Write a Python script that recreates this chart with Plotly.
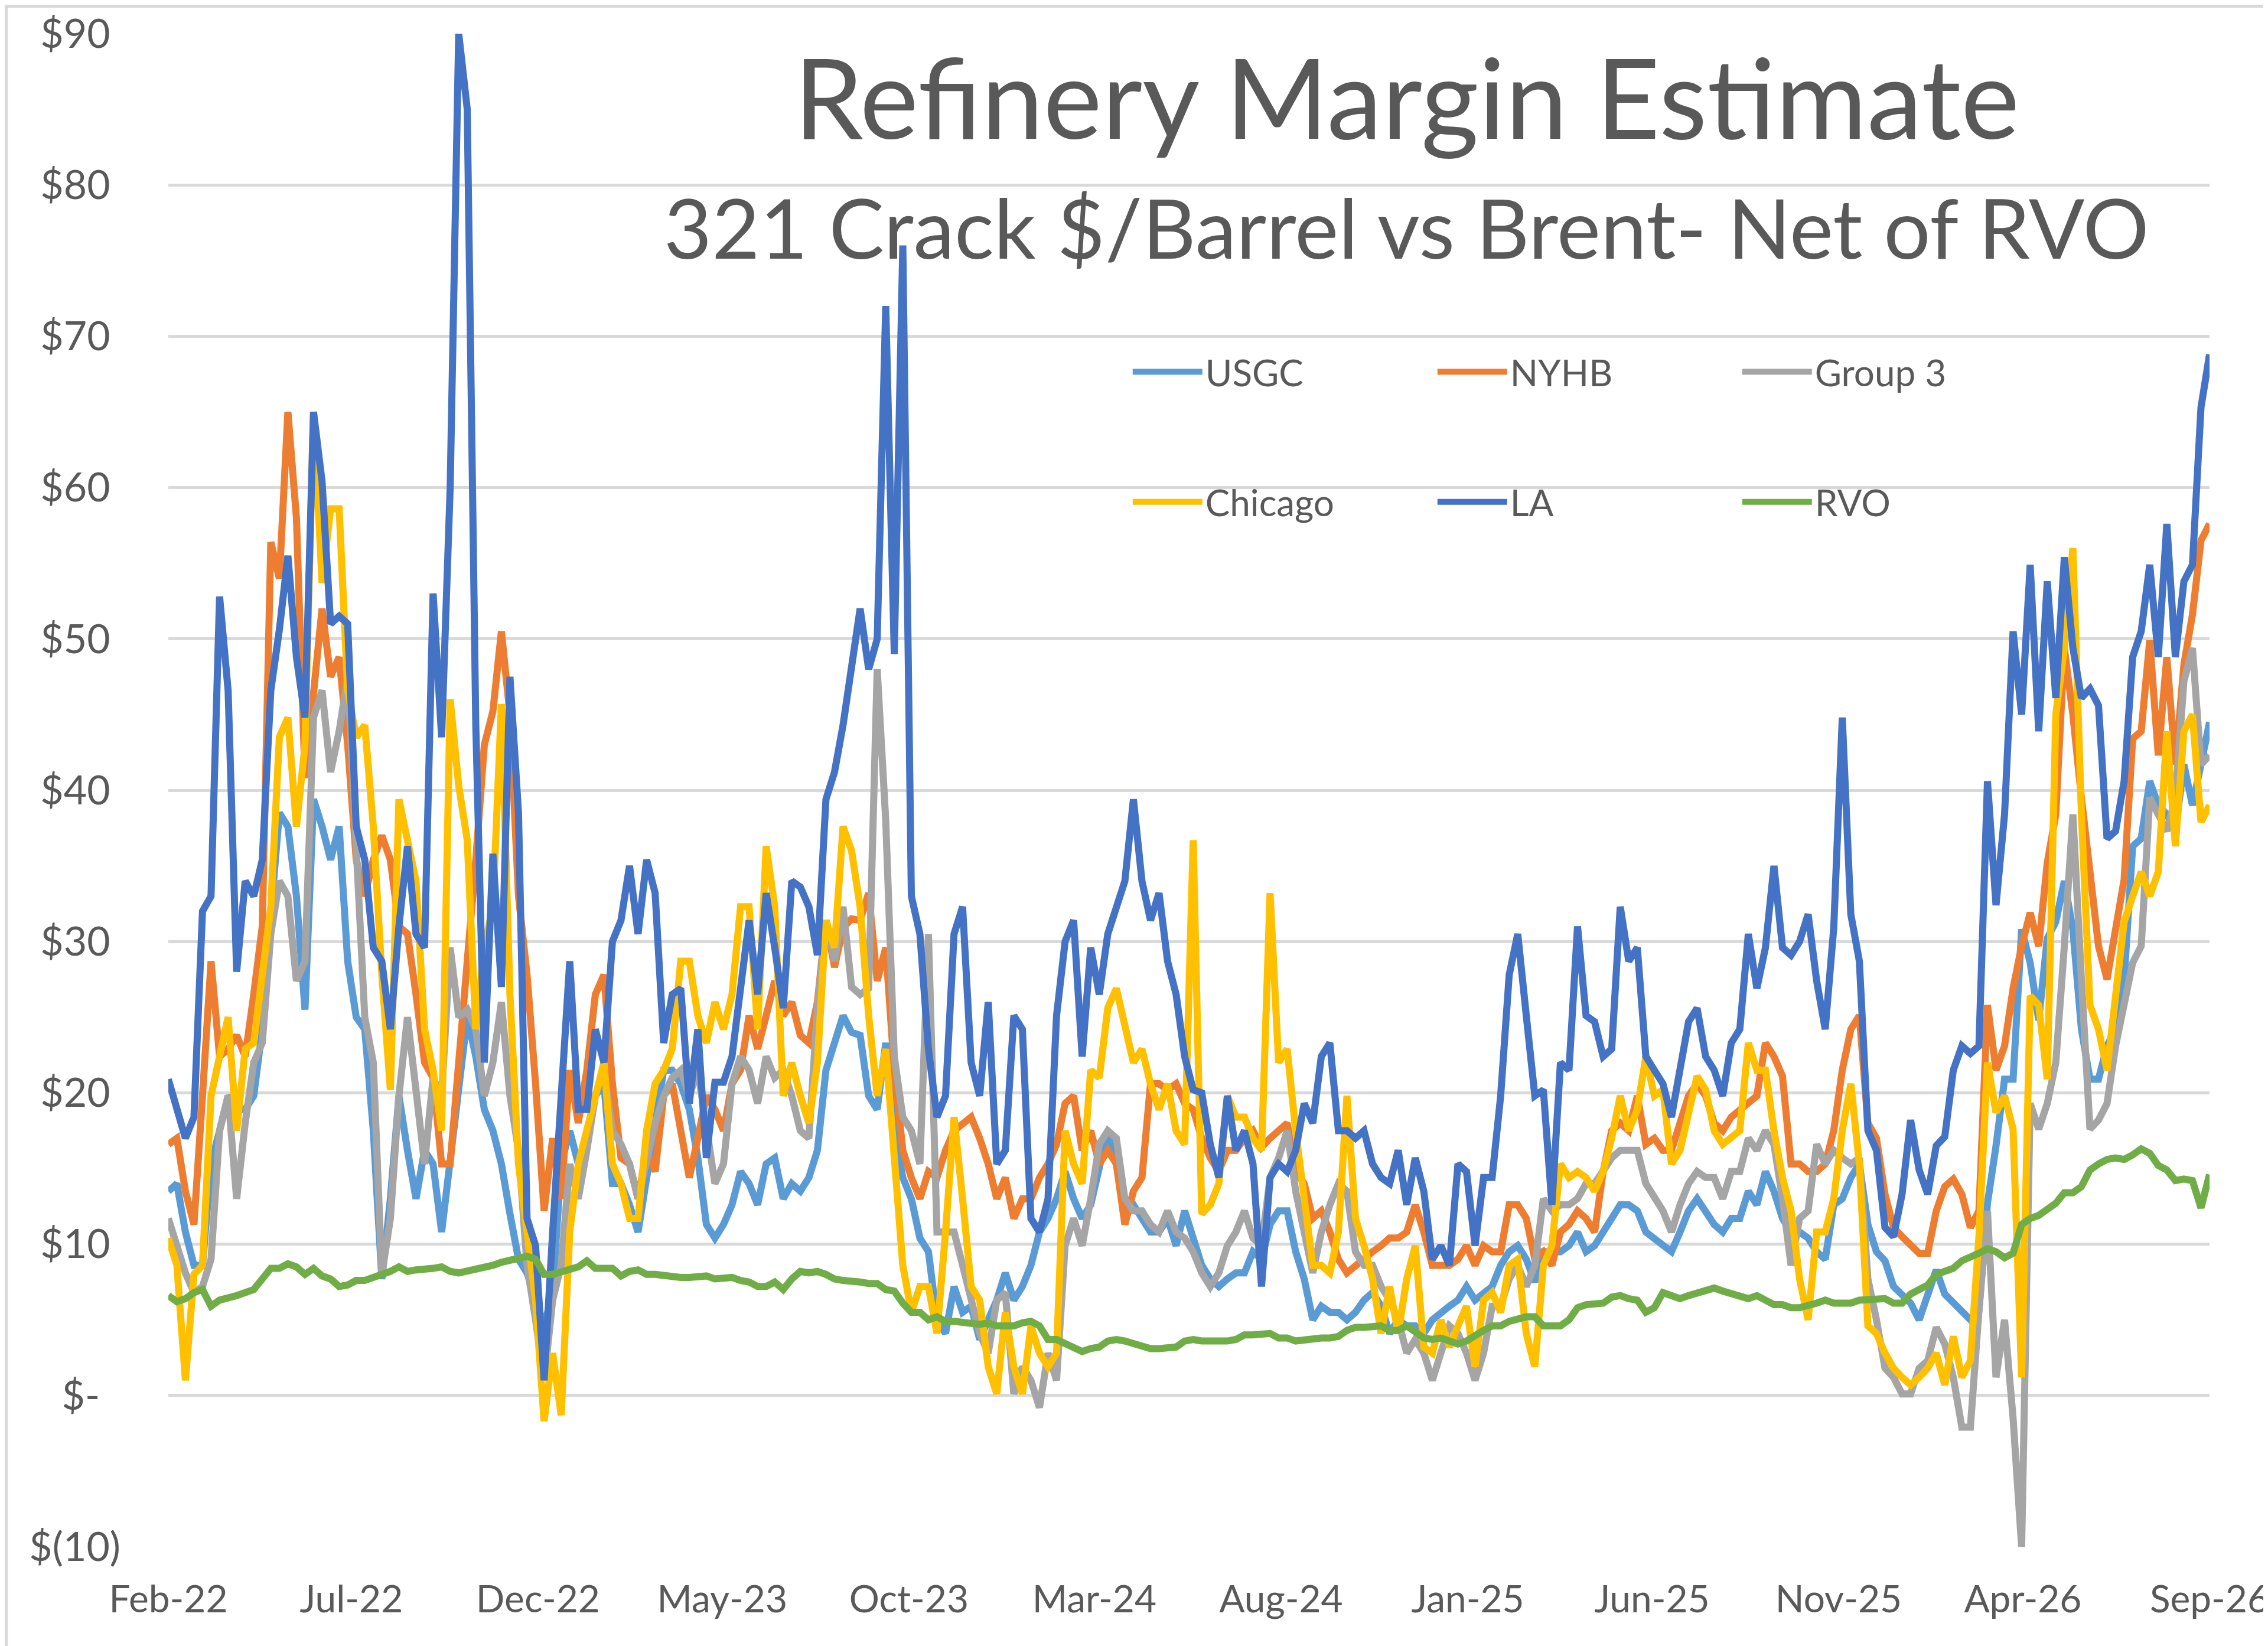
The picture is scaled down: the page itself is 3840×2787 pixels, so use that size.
# Refinery margin estimate chart (321 crack vs Brent, net of RVO)
import pandas as pd
import plotly.graph_objects as go

# Weekly observations, first point on 2022-02-01
START_DATE = "2022-02-01"

usgc = [
    13.5, 14, 10.8, 8.6, 8.6, 15.3, 17.5, 19.8, 18.9, 18.9,
    19.8, 24.2, 31.8, 38.5, 37.6, 33, 25.5, 39.4, 37.6, 35.4,
    37.6, 28.7, 25, 24.2, 17.5, 7.7, 13, 19.8, 16.2, 13,
    16.2, 15.3, 10.8, 15.3, 19.8, 25, 22.4, 18.9, 17.5, 15.3,
    12, 9, 8.1, 6.3, 4.6, 6.8, 15.3, 17.5, 15.3, 17,
    19.8, 20.6, 14, 14, 12.6, 10.8, 14.4, 17.5, 21.5, 21.5,
    20.6, 18.9, 15.7, 11.3, 10.4, 11.3, 12.6, 14.8, 14, 12.6,
    15.3, 15.7, 13, 14, 13.5, 14.4, 16.2, 21.5, 23.3, 25.1,
    24, 23.8, 19.8, 18.9, 23.3, 17.5, 14.4, 13, 10.4, 9.5,
    5, 4.1, 7.2, 5.5, 5.9, 3.7, 5, 6.3, 8.1, 6.3,
    7.2, 8.6, 10.8, 11.7, 13, 14.8, 13, 11.7, 12.6, 15.3,
    17.5, 15.7, 12.6, 12.6, 11.7, 10.8, 10.8, 11.7, 9.9, 12.2,
    10.4, 8.6, 7.7, 7.2, 7.7, 8.1, 8.1, 9.5, 9, 11.3,
    12.2, 12.2, 9.5, 7.7, 5, 5.9, 5.5, 5.5, 5, 5.5,
    6.3, 6.8, 5.9, 4.1, 5, 4.6, 4.6, 4.1, 5, 5.5,
    5.9, 6.3, 7.2, 6.3, 6.8, 7.2, 8.6, 9.5, 9.9, 9,
    7.5, 9.5, 9.5, 9.5, 9.9, 10.8, 9.5, 9.9, 10.8, 11.7,
    12.6, 12.6, 12.2, 10.8, 10.4, 9.9, 9.5, 10.8, 12.2, 13,
    12.2, 11.3, 10.8, 11.7, 11.7, 13.5, 12.6, 14.8, 13.5, 11.7,
    10.8, 10.8, 10.4, 9.5, 9, 12.6, 13, 14.4, 15.3, 11.3,
    9.5, 8.9, 7.2, 6.7, 6.1, 5, 6.7, 8.3, 6.7, 6.1,
    5.6, 5, 5.6, 12.7, 16.5, 20.9, 20.9, 30.8, 28.6, 24.8,
    30.2, 31.3, 34, 30.8, 24.2, 20.9, 20.9, 23.1, 24.2, 27.5,
    36.3, 36.8, 40.6, 39, 38.4, 37.3, 41.7, 39, 41.7, 44.5,
]

nyhb = [
    16.6, 17, 13.5, 11.3, 19.8, 28.7, 22.4, 22.9, 23.8, 22.4,
    26.5, 31, 56.4, 54, 65, 58, 40.8, 46.6, 52, 47.5,
    48.8, 43, 35.4, 33, 35.4, 37, 35.4, 31, 30.5, 26.5,
    22, 21, 15.3, 15.3, 22, 27.8, 35.4, 43, 45.2, 50.5,
    45, 33, 27.8, 20.6, 12.2, 17, 13, 21.5, 18, 21.5,
    26.5, 27.8, 20.6, 15.7, 15.3, 13, 16.2, 14.8, 19.8, 20.6,
    17.5, 14.4, 17, 19.8, 18.9, 17.5, 20.6, 21.5, 25.1, 22.9,
    25.1, 27.4, 25.1, 26, 23.8, 23.3, 26, 31.4, 28.3, 30.9,
    31.5, 31.4, 33.2, 27.4, 29.6, 21.5, 16.2, 14.4, 13, 14.8,
    14.4, 16.2, 17.5, 18, 18.4, 17, 15.3, 13, 14.4, 11.7,
    13, 13, 14.4, 15.3, 16.6, 19.3, 19.8, 16.2, 17.5, 15.3,
    16.2, 15.3, 11.3, 13.5, 14.4, 20.6, 20.6, 20.2, 20.6, 19.3,
    18.9, 17, 15.7, 14.8, 16.2, 16.2, 17, 17.5, 16.4, 17,
    17.5, 18, 14.8, 14, 11.7, 12.2, 10.8, 9, 8.1, 8.6,
    9, 9.5, 9.9, 10.4, 10.4, 10.8, 12.6, 10.8, 8.6, 8.6,
    8.6, 9, 9.9, 8.6, 9.9, 9.5, 9.5, 12.6, 12.6, 11.7,
    9, 9.5, 8.6, 10.8, 11.3, 12.2, 11.7, 10.8, 14.8, 17.5,
    18, 17.5, 19.8, 16.6, 17, 16.2, 16.2, 18, 19.8, 20.6,
    19.8, 18, 17.5, 18.4, 18.9, 19.3, 19.8, 23.3, 22.4, 21.1,
    15.3, 15.3, 14.8, 14.8, 15.3, 17.5, 21.5, 24.2, 25.1, 18,
    17, 13.3, 11.1, 10.5, 10, 9.4, 9.4, 12.2, 13.8, 14.3,
    13.3, 11.1, 12.2, 25.8, 21.5, 23.1, 26.9, 29.7, 31.9, 29.7,
    35.2, 38.4, 49.4, 45, 39.5, 34.1, 29.7, 27.5, 30.8, 34.1,
    43.4, 43.9, 49.9, 42.3, 48.8, 41.7, 48.3, 51.6, 56.5, 57.6,
]

group3 = [
    11.7, 10, 8.1, 6.8, 7.2, 9, 17.5, 19.8, 13, 18,
    22, 23.3, 30.5, 34, 33, 27.4, 28.7, 44.8, 46.6, 41.2,
    43.9, 47.5, 35.4, 25, 22, 8, 11.7, 19.8, 25, 19.8,
    15.3, 21, 19.8, 29.6, 25, 25.5, 24.2, 19.8, 22, 26,
    19.8, 16.2, 8.6, 5, 1, 6.3, 8.6, 15.3, 13, 16.2,
    19.8, 21.5, 17.5, 16.6, 15.3, 13, 15.3, 18, 19.8, 21,
    21.5, 19.8, 21.5, 17.5, 14, 15.3, 20.6, 22.4, 21.5, 19.3,
    22.4, 21, 21.5, 19.8, 17.5, 17, 25.6, 31.4, 28.7, 32.3,
    27, 26.5, 26.9, 48, 38, 22.4, 18.4, 17.5, 15.3, 30.5,
    10.8, 10.8, 10.8, 8.6, 6.3, 4.1, 2.8, 6.3, 6.8, 0.1,
    1.9, 1, -0.8, 2.8, 1, 9.9, 11.7, 9.9, 13, 16.6,
    17.5, 17, 13, 12.2, 12.2, 11.3, 10.8, 12.2, 10.8, 10.4,
    9.5, 8.1, 7.2, 8.1, 9.9, 10.8, 12.2, 10.4, 9.9, 14.4,
    15.7, 17.5, 13.5, 10.8, 8.1, 10.8, 12.6, 14, 13.5, 9.5,
    8.6, 8.6, 7.2, 6.3, 5, 2.8, 3.7, 2.8, 1, 2.8,
    4.6, 4.1, 2.8, 1, 2.8, 5.9, 5.9, 7.7, 8.6, 7.2,
    8.6, 13, 12.2, 12.6, 12.6, 13, 14, 14, 14.8, 15.7,
    16.2, 16.2, 16.2, 14, 13, 12.2, 10.8, 12.6, 14, 14.8,
    14.4, 14.4, 13, 14.8, 14.8, 17, 16.2, 17.5, 16.6, 13,
    8.6, 11.7, 12.2, 16.6, 15.3, 16.2, 15.7, 15.3, 15.7, 7.7,
    5, 1.8, 1.2, 0.1, 0.1, 1.8, 2.3, 4.5, 3.4, 1.2,
    -2.1, -2.1, 5.6, 12.2, 1.2, 5, -1.5, -10, 19.3, 17.6,
    19.3, 22, 29.7, 38.4, 27.5, 17.6, 18.2, 19.3, 23.1, 25.8,
    28.6, 29.7, 39.5, 38.4, 37.3, 39.5, 47.2, 49.4, 41.7, 42.3,
]

chicago = [
    10.4, 8.6, 1, 8, 8.6, 19.8, 22.4, 25, 17.5, 22.9,
    23.3, 27.4, 32.3, 43.5, 44.8, 37.6, 43, 65, 53.7, 58.6,
    58.6, 46.6, 43.5, 44.3, 37.6, 27.8, 20.2, 39.4, 36.7, 34,
    24.2, 21.5, 17.5, 46, 40.3, 36.7, 24.2, 29.6, 32.3, 45.7,
    26.5, 15.3, 10.8, 6.3, -1.7, 2.8, -1.3, 10.8, 15.3, 17.5,
    19.8, 22, 15.3, 14, 11.7, 11.7, 17.5, 20.6, 21.5, 22.9,
    28.7, 28.7, 25.1, 23.3, 26, 24.2, 26.5, 32.3, 32.3, 24.2,
    36.3, 32.3, 19.8, 22, 19.8, 18, 22, 31.4, 29.6, 37.6,
    36, 32.3, 25.1, 19.8, 22.9, 15.3, 8.6, 5.5, 7.2, 7.2,
    4.1, 10.8, 18.4, 13, 7.2, 6.3, 1.9, 0.1, 5.5, 1.9,
    0.1, 4.6, 2.8, 1.9, 2.8, 17.5, 15.3, 14, 21.5, 21,
    25.6, 26.9, 24.2, 22, 22.9, 20.6, 18.9, 20.6, 17.5, 16.6,
    36.7, 12, 12.6, 14, 19.8, 18.4, 18.4, 17, 16.2, 33.2,
    22, 22.9, 17.5, 13, 8.6, 8.6, 8.1, 10.8, 19.8, 11.7,
    9.9, 7.7, 4.1, 7.2, 4.1, 7.7, 9.9, 3.2, 2.8, 5,
    3.2, 4.6, 5.9, 1.9, 6.3, 6.8, 5.5, 8.6, 9, 4.1,
    1.9, 8.6, 9.9, 15.3, 14.4, 14.8, 14.4, 13.5, 14.8, 17,
    19.8, 17.5, 18.9, 22.4, 19.8, 20.2, 15.3, 16.2, 18.9, 21.1,
    20.2, 17.5, 16.6, 17, 17.5, 23.3, 21.5, 21.5, 17.5, 14.4,
    12.2, 7.7, 5, 10.8, 10.8, 13, 17.5, 20.6, 15.3, 4.6,
    4.1, 2.8, 1.8, 1.2, 0.7, 1.2, 1.8, 2.8, 0.7, 3.9,
    1.2, 2.3, 10.5, 22, 18.7, 19.8, 17.6, 1.2, 26.4, 25.8,
    20.9, 45, 49.4, 56, 38.4, 25.8, 24.2, 21.5, 26.9, 31.3,
    33, 34.6, 33, 34.6, 43.9, 36.3, 43.9, 45, 37.9, 39,
]

la = [
    20.9, 18.9, 17, 18.4, 32, 33, 52.8, 46.6, 28, 34,
    33, 35.4, 46.6, 50.6, 55.5, 48.8, 44.8, 65, 60.4, 51,
    51.5, 51, 37.6, 35.4, 29.6, 28.7, 24.2, 31, 36.3, 30.5,
    29.6, 53, 43.5, 60, 90, 85, 44.3, 22, 35.8, 27,
    47.5, 38.5, 11.7, 9.9, 1, 10.8, 19.8, 28.7, 18.9, 18.9,
    24.2, 22, 30, 31.4, 35, 30.5, 35.4, 33.2, 23.3, 26.5,
    26.9, 19.3, 24.2, 15.7, 20.7, 20.7, 22.4, 27.4, 31.4, 26.5,
    33.2, 29.6, 25.6, 34, 33.6, 32.3, 29.1, 39.4, 41.2, 44.3,
    48, 52, 48, 50, 72, 49, 76, 33, 30.5, 22.9,
    18.4, 19.8, 30.5, 32.3, 22, 19.8, 26, 15.3, 16.2, 25.1,
    24.2, 11.7, 10.8, 13, 25.1, 30, 31.4, 22.4, 29.6, 26.5,
    30.5, 32.3, 34, 39.4, 34, 31.4, 33.2, 28.7, 26.5, 22.4,
    20.2, 20, 16.6, 14.4, 19.8, 16.2, 17.5, 15.3, 7.2, 14.4,
    15.3, 14.8, 16.2, 19.3, 18, 22.4, 23.3, 17.5, 17.5, 17,
    17.5, 15.3, 14.4, 14, 16.2, 12.6, 15.7, 13.5, 9, 9.9,
    8.6, 15.3, 14.8, 9.9, 14.4, 14.4, 19.8, 27.8, 30.5, 25.1,
    19.8, 20.2, 12.6, 22, 21.5, 31, 25.1, 24.7, 22.4, 22.9,
    32.3, 28.7, 29.6, 22.4, 21.5, 20.6, 18.4, 21.5, 24.7, 25.6,
    22.4, 21.5, 19.8, 23.3, 24.2, 30.5, 26.9, 29.6, 35, 29.6,
    29.1, 30, 31.8, 27.4, 24.2, 30.9, 44.8, 31.8, 28.7, 17.5,
    16.2, 11.1, 10.5, 13.3, 18.2, 14.9, 13.3, 16.5, 17.1, 21.5,
    23.1, 22.6, 23.1, 40.6, 32.4, 38.4, 50.5, 45, 54.9, 43.9,
    53.8, 46.1, 55.4, 49.4, 46.1, 46.7, 45.6, 36.8, 37.3, 40.6,
    48.8, 50.5, 54.9, 48.8, 57.6, 48.8, 53.8, 54.9, 65.3, 68.8,
]

rvo = [
    6.6, 6.2, 6.4, 6.8, 7, 5.9, 6.3, 6.4, 6.6, 6.8,
    7, 7.7, 8.4, 8.4, 8.7, 8.5, 8, 8.4, 7.9, 7.7,
    7.2, 7.3, 7.6, 7.6, 7.8, 7.9, 8.2, 8.5, 8.2, 8.3,
    8.3, 8.4, 8.5, 8.2, 8.1, 8.2, 8.4, 8.5, 8.6, 8.8,
    8.9, 9, 9.2, 9, 8, 8, 8.2, 8.4, 8.5, 8.9,
    8.4, 8.4, 8.4, 7.9, 8.2, 8.3, 8, 8, 7.9, 7.8,
    7.8, 7.8, 7.9, 7.9, 7.7, 7.8, 7.8, 7.6, 7.5, 7.2,
    7.2, 7.5, 7, 7.7, 8.2, 8.1, 8.2, 8, 7.7, 7.6,
    7.6, 7.5, 7.4, 7.4, 7, 6.9, 6.1, 5.5, 5.5, 5,
    5.2, 4.9, 4.9, 4.8, 4.8, 4.7, 4.8, 4.6, 4.6, 4.6,
    4.8, 4.9, 4.6, 3.7, 3.7, 3.4, 3.2, 2.9, 3.1, 3.2,
    3.6, 3.7, 3.6, 3.4, 3.2, 3.1, 3.1, 3.2, 3.2, 3.6,
    3.7, 3.6, 3.6, 3.5, 3.6, 3.7, 4, 4, 4, 4.1,
    3.8, 3.8, 3.6, 3.7, 3.8, 3.8, 3.8, 3.9, 4.3, 4.5,
    4.5, 4.6, 4.6, 4.3, 4.3, 4.6, 4.2, 3.8, 3.7, 3.8,
    3.6, 3.4, 3.6, 4, 4.3, 4.6, 4.6, 4.9, 5.1, 5.2,
    5.2, 4.6, 4.6, 4.6, 5, 5.8, 6, 6.1, 6.1, 6.5,
    6.6, 6.4, 6.3, 5.5, 5.8, 6.8, 6.6, 6.4, 6.6, 6.8,
    7, 7.1, 6.9, 6.7, 6.6, 6.4, 6.6, 6.3, 6, 6,
    5.8, 5.8, 5.9, 6.1, 6.3, 6.1, 6.1, 6.1, 6.3, 6.3,
    6.3, 6.4, 6.1, 6.1, 6.7, 7, 7.3, 8, 8.2, 8.4,
    8.9, 9.1, 9.4, 9.7, 9.5, 9.1, 9.4, 11.3, 11.7, 11.9,
    12.3, 12.7, 13.4, 13.4, 13.8, 14.9, 15.3, 15.6, 15.7, 15.6,
    15.9, 16.3, 16, 15.2, 14.9, 14.2, 14.3, 14.2, 12.4, 14.6,
]

# Y axis ticks in Excel accounting style
y_ticks = [-10, 0, 10, 20, 30, 40, 50, 60, 70, 80, 90]
y_labels = ["$(10)", "$-  ", "$10 ", "$20 ", "$30 ", "$40 ", "$50 ",
            "$60 ", "$70 ", "$80 ", "$90 "]

# (name, values, colour, legend row)
series = [
    ("USGC", usgc, "#5B9BD5", "legend"),
    ("NYHB", nyhb, "#ED7D31", "legend"),
    ("Group 3", group3, "#A5A5A5", "legend"),
    ("Chicago", chicago, "#FFC000", "legend2"),
    ("LA", la, "#4472C4", "legend2"),
    ("RVO", rvo, "#70AD47", "legend2"),
]

FONT = "Lato"
TEXT_GREY = "#595959"
GRID_GREY = "#D9D9D9"

fig = go.Figure()
for name, values, colour, legend_id in series:
    dates = pd.date_range(START_DATE, periods=len(values), freq="7D")
    fig.add_trace(go.Scatter(
        x=dates, y=values, name=name, mode="lines",
        line=dict(color=colour, width=12),
        legend=legend_id,
    ))

legend_style = dict(
    orientation="h", x=0.471, xanchor="left", yanchor="middle",
    font=dict(family=FONT, size=62, color=TEXT_GREY),
    itemwidth=118, entrywidth=383, entrywidthmode="pixels",
    bgcolor="rgba(0,0,0,0)", traceorder="normal",
)

fig.update_layout(
    width=3840, height=2787,
    margin=dict(l=277, r=107, t=49, b=176, autoexpand=False),
    paper_bgcolor="white", plot_bgcolor="white",
    font=dict(family=FONT, color=TEXT_GREY),
    showlegend=True,
    legend=dict(legend_style, y=0.7765),
    legend2=dict(legend_style, y=0.6905),
    annotations=[
        dict(text="Refinery Margin Estimate", xref="paper", yref="paper",
             x=0.6065, y=0.959, xanchor="center", yanchor="middle",
             showarrow=False, font=dict(family=FONT, size=188, color=TEXT_GREY)),
        dict(text="321 Crack $/Barrel vs Brent- Net of RVO", xref="paper", yref="paper",
             x=0.6065, y=0.8725, xanchor="center", yanchor="middle",
             showarrow=False, font=dict(family=FONT, size=140, color=TEXT_GREY)),
    ],
    # light grey chart-area border round the whole picture
    shapes=[dict(type="rect", xref="paper", yref="paper",
                 x0=-0.0795, x1=1.0302, y0=-0.0679, y1=1.0182,
                 line=dict(color=GRID_GREY, width=6), layer="below")],
)

fig.update_xaxes(
    range=["2022-02-01", "2026-09-01"],
    tick0="2022-02-01", dtick="M5", tickformat="%b-%y",
    showgrid=False, zeroline=False, showline=False, ticks="",
    automargin=False,
    ticklabelstandoff=46, ticklabeloverflow="allow",
    tickfont=dict(family=FONT, size=64, color=TEXT_GREY),
)

fig.update_yaxes(
    range=[-10, 90], tickvals=y_ticks, ticktext=y_labels,
    showgrid=True, gridcolor=GRID_GREY, gridwidth=5,
    zeroline=False, showline=False, ticks="",
    automargin=False,
    ticklabelstandoff=80,
    tickfont=dict(family=FONT, size=68, color=TEXT_GREY),
)

fig.write_html("out.html")
